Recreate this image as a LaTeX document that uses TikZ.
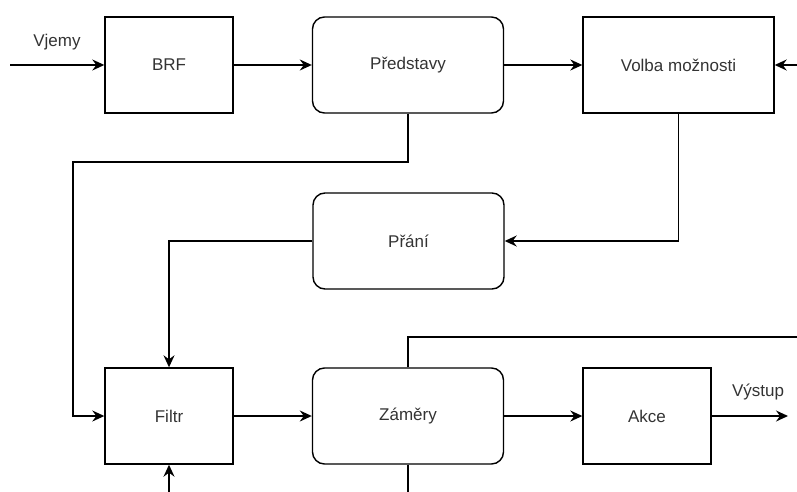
\documentclass[tikz,border=0pt]{standalone}
\usepackage{fontspec}
\setmainfont{Liberation Sans}
\usetikzlibrary{arrows.meta}

\begin{document}
\begin{tikzpicture}[x=1pt, y=-1pt, line width=1.4pt,
  box/.style={draw, text=black!80, font=\fontsize{17}{20}\selectfont, minimum height=96pt},
  smallbox/.style={box, minimum width=128pt},
  bigbox/.style={box, minimum width=191pt, rounded corners=12pt},
  lbl/.style={text=black!80, font=\fontsize{17}{20}\selectfont},
  arr/.style={-{Stealth[length=12pt, width=11pt, inset=4pt]}}]

\useasboundingbox (0,0) rectangle (797,492);

\node[smallbox] (brf) at (169,65) {BRF};
\node[bigbox] (predstavy) at (408,65) {Představy};
\node[box, minimum width=191pt] (volba) at (678.5,65) {Volba možnosti};

\node[bigbox] (prani) at (408.5,241) {Přání};

\node[smallbox] (filtr) at (169,416) {Filtr};
\node[bigbox] (zamery) at (408,416) {Záměry};
\node[smallbox] (akce) at (647,416) {Akce};

\coordinate (vstup) at (10,65);
\coordinate (zprava) at (797,65);
\coordinate (ohyb) at (73,162);
\coordinate (zdola) at (169,492);
\coordinate (vystup) at (788,416);
\coordinate (nahoru) at (797,337);
\coordinate (dolu) at (408,492);

\node[lbl] (vjemy) at (57,42) {Vjemy};
\node[lbl] (vystuptext) at (758,392) {Výstup};

\draw[arr] (vstup) -- (brf);
\draw[arr] (brf) -- (predstavy);
\draw[arr] (predstavy) -- (volba);
\draw[arr] (zprava) -- (volba);

\draw[arr] (volba.south) |- (prani.east);
\draw[arr] (predstavy.south) |- (ohyb) |- (filtr.west);
\draw[arr] (prani.west) -| (filtr.north);
\draw[arr] (zdola) -- (filtr.south);

\draw[arr] (filtr) -- (zamery);
\draw[arr] (zamery) -- (akce);
\draw[arr] (akce) -- (vystup);

\draw (zamery.north) |- (nahoru);
\draw (zamery.south) -- (dolu);

\end{tikzpicture}
\end{document}
